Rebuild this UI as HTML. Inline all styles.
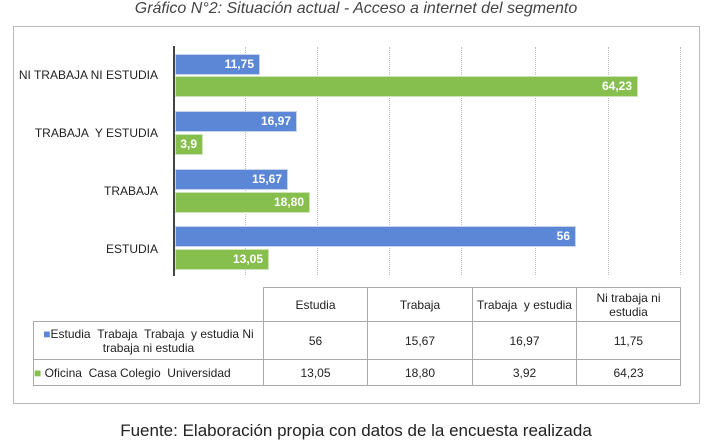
<!DOCTYPE html><html><head><style>
body{margin:0;width:712px;height:444px;background:#fff;font-family:"Liberation Sans",sans-serif;position:relative;overflow:hidden}
.a{position:absolute}
.lbl{font-size:12px;color:#222;text-align:right;width:150px;left:8px}
.bar{position:absolute;left:175px;height:21px;border:1px solid #c8d4e8;box-sizing:border-box;color:#fff;font-weight:bold;font-size:12px;text-align:right;padding-right:5px;line-height:19px}
.b{background:#5b87d6}.g{background:#86bf4e;border-color:#cfe3b8}
.gl{position:absolute;top:47px;height:228px;border-left:1px dotted #bbb}
td{border:1px solid #aaa;font-size:12px;text-align:center;color:#222;padding:0;box-sizing:border-box}
table{border-collapse:collapse;position:absolute;left:33px;top:287px;table-layout:fixed}
</style></head><body>
<div class="a" style="top:0;width:712px;text-align:center;font-style:italic;font-size:16px;color:#444">Gráfico N°2: Situación actual - Acceso a internet del segmento</div>
<div class="a" style="left:13px;top:26px;width:687px;height:378px;border:1px solid #bbb;box-sizing:border-box"></div>
<div class="gl" style="left:245px"></div><div class="gl" style="left:317px"></div><div class="gl" style="left:389px"></div><div class="gl" style="left:461px"></div><div class="gl" style="left:535px"></div><div class="gl" style="left:608px"></div><div class="gl" style="left:680px"></div>
<div class="a" style="left:173px;top:46px;width:2px;height:230px;background:#444"></div>
<div class="a lbl" style="top:68px">NI TRABAJA NI ESTUDIA</div>
<div class="a lbl" style="top:126px">TRABAJA &nbsp;Y ESTUDIA</div>
<div class="a lbl" style="top:184px">TRABAJA</div>
<div class="a lbl" style="top:242px">ESTUDIA</div>
<div class="bar b" style="top:54px;width:85px">11,75</div>
<div class="bar g" style="top:76px;width:463px">64,23</div>
<div class="bar b" style="top:111px;width:122px">16,97</div>
<div class="bar g" style="top:134px;width:28px">3,9</div>
<div class="bar b" style="top:169px;width:113px">15,67</div>
<div class="bar g" style="top:192px;width:135px">18,80</div>
<div class="bar b" style="top:226px;width:401px">56</div>
<div class="bar g" style="top:249px;width:94px">13,05</div>
<table>
<tr style="height:34px"><td style="width:230px;border:none;border-bottom:1px solid #aaa"></td><td style="width:104px">Estudia</td><td style="width:105px">Trabaja</td><td style="width:104px">Trabaja &nbsp;y estudia</td><td style="width:104px">Ni trabaja ni<br>estudia</td></tr>
<tr style="height:38px"><td><span style="color:#5b87d6">■</span>Estudia &nbsp;Trabaja &nbsp;Trabaja &nbsp;y estudia Ni<br>trabaja ni estudia</td><td>56</td><td>15,67</td><td>16,97</td><td>11,75</td></tr>
<tr style="height:26px"><td style="text-align:left"><span style="color:#86bf4e">■</span> Oficina &nbsp;Casa Colegio &nbsp;Universidad</td><td>13,05</td><td>18,80</td><td>3,92</td><td>64,23</td></tr>
</table>
<div class="a" style="top:421px;width:712px;text-align:center;font-size:17px;color:#222">Fuente: Elaboración propia con datos de la encuesta realizada</div>
</body></html>
